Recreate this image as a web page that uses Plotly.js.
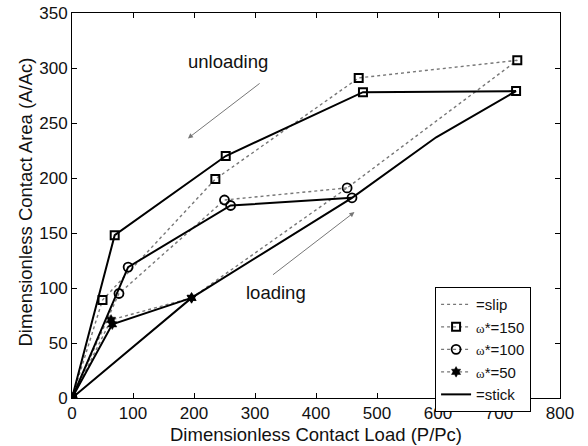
<!DOCTYPE html>
<html>
<head>
<meta charset="utf-8">
<script src="https://cdn.plot.ly/plotly-3.0.1.min.js"></script>
<style>html,body{margin:0;padding:0;background:#fff;}#chart{width:588px;height:446px;}</style>
</head>
<body>
<div id="chart"></div>
<script>
// ---- data ----
const stickLoadX = [0, 196, 459, 597, 728];
const stickLoadY = [0, 91, 182, 237, 279];
const slipLoadX = [196, 451, 730];
const slipLoadY = [91, 191, 307];

const w150SlipX = [730, 470, 235, 50, 0];
const w150SlipY = [307, 291, 199, 89, 0];
const w150StickX = [728, 477, 252, 70, 0];
const w150StickY = [279, 278, 220, 148, 0];

const w100SlipX = [451, 250, 77, 0];
const w100SlipY = [191, 180, 95, 0];
const w100StickX = [459, 260, 92, 0];
const w100StickY = [182, 175, 119, 0];

const w50SlipX = [196, 64, 0];
const w50SlipY = [91, 71, 0];
const w50StickX = [196, 66, 0];
const w50StickY = [91, 67, 0];

const legendNames = ['=slip',
  '<span style="font-family:\'Liberation Serif\';font-size:13px">ω</span>*=150',
  '<span style="font-family:\'Liberation Serif\';font-size:13px">ω</span>*=100',
  '<span style="font-family:\'Liberation Serif\';font-size:13px">ω</span>*=50',
  '=stick'];

// ---- styles ----
const dotLine = {color: '#777', width: 1.4, dash: 'dot'};
const solidLine = {color: '#000', width: 2};
const sq = {symbol: 'square-open', size: 8, color: '#000', line: {width: 2, color: '#000'}};
const ci = {symbol: 'circle-open', size: 9, color: '#000', line: {width: 1.8, color: '#000'}};
const hx = {symbol: 'hexagram', size: 8, color: '#000', line: {width: 0.5, color: '#000'}};

const traces = [
  {x: slipLoadX, y: slipLoadY, mode: 'lines', line: dotLine, name: legendNames[0], legendrank: 1},
  {x: w150SlipX, y: w150SlipY, mode: 'lines+markers', line: dotLine, marker: sq, name: legendNames[1], legendrank: 2},
  {x: w100SlipX, y: w100SlipY, mode: 'lines+markers', line: dotLine, marker: ci, name: legendNames[2], legendrank: 3},
  {x: w50SlipX, y: w50SlipY, mode: 'lines+markers', line: dotLine, marker: hx, name: legendNames[3], legendrank: 4},
  {x: stickLoadX, y: stickLoadY, mode: 'lines', line: solidLine, name: legendNames[4], legendrank: 5},
  {x: w150StickX, y: w150StickY, mode: 'lines+markers', line: solidLine, marker: sq, showlegend: false},
  {x: w100StickX, y: w100StickY, mode: 'lines+markers', line: solidLine, marker: ci, showlegend: false},
  {x: w50StickX, y: w50StickY, mode: 'lines+markers', line: solidLine, marker: hx, showlegend: false}
];

const fontFam = '"Liberation Sans", Arial, sans-serif';
const axisCommon = {
  showgrid: false, zeroline: false, showline: true, linecolor: '#000', linewidth: 1,
  mirror: 'ticks', ticks: 'inside', ticklen: 5, tickcolor: '#000', tickwidth: 1,
  tickfont: {family: fontFam, size: 17, color: '#111'}, automargin: false
};

const layout = {
  width: 588, height: 446,
  margin: {l: 72, r: 28, t: 13, b: 48},
  paper_bgcolor: '#fff', plot_bgcolor: '#fff',
  font: {family: fontFam, color: '#111'},
  xaxis: Object.assign({}, axisCommon, {range: [0, 800], dtick: 100, tick0: 0}),
  yaxis: Object.assign({}, axisCommon, {range: [0, 350], dtick: 50, tick0: 0}),
  showlegend: true,
  legend: {
    x: 0.744, y: 0.288, xanchor: 'left', yanchor: 'top',
    bgcolor: '#fff', bordercolor: '#000', borderwidth: 1,
    font: {family: fontFam, size: 15, color: '#111'},
    tracegroupgap: 0, traceorder: 'normal'
  },
  annotations: [
    {xref: 'paper', yref: 'paper', x: 0.5, y: 0, yanchor: 'middle', xanchor: 'center', yshift: -36,
     text: 'Dimensionless Contact Load (P/Pc)', showarrow: false, font: {family: fontFam, size: 18.5, color: '#111'}},
    {xref: 'paper', yref: 'paper', x: 0, y: 0.5, xanchor: 'center', yanchor: 'middle', xshift: -47, yshift: 3,
     textangle: -90, text: 'Dimensionless Contact Area (A/Ac)', showarrow: false, font: {family: fontFam, size: 18.5, color: '#111'}},
    {xref: 'x', yref: 'y', x: 255, y: 306, text: 'unloading', showarrow: false, font: {family: fontFam, size: 18.5, color: '#111'}},
    {xref: 'x', yref: 'y', x: 335, y: 96, text: 'loading', showarrow: false, font: {family: fontFam, size: 18.5, color: '#111'}},
    {xref: 'x', yref: 'y', axref: 'x', ayref: 'y', x: 190, y: 236, ax: 310, ay: 287, text: '', showarrow: true,
     arrowhead: 2, arrowsize: 1, arrowwidth: 1, arrowcolor: '#777'},
    {xref: 'x', yref: 'y', axref: 'x', ayref: 'y', x: 463, y: 169, ax: 327, ay: 111, text: '', showarrow: true,
     arrowhead: 2, arrowsize: 1, arrowwidth: 1, arrowcolor: '#777'}
  ]
};

Plotly.newPlot('chart', traces, layout, {displayModeBar: false, staticPlot: true});
</script>
</body>
</html>
